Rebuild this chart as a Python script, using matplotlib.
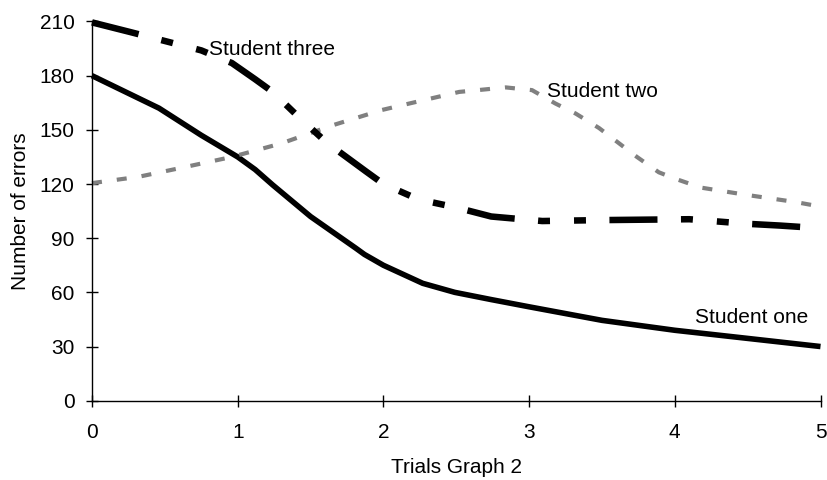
import matplotlib
matplotlib.use("Agg")
import matplotlib.pyplot as plt

plt.rcParams['font.family'] = ['Liberation Sans', 'DejaVu Sans']
plt.rcParams['lines.scale_dashes'] = False

# values
one_x = [0, 0.46, 0.75, 1.0, 1.12, 1.24, 1.5, 1.81, 1.87, 2.0, 2.27, 2.49, 2.74, 3.0, 3.5, 4.0, 4.5, 5.0]
one_y = [180, 162, 147, 135, 128, 119.5, 102, 84.5, 81, 75, 65, 60, 56, 52, 44.5, 39, 34.5, 30]

two_x = [0, 0.32, 0.65, 0.96, 1.3, 1.65, 1.99, 2.2, 2.52, 2.84, 3.02, 3.18, 3.32, 3.48, 3.61, 3.74, 3.89, 4.0, 4.18, 4.49, 4.66, 4.83, 5.0]
two_y = [120.5, 124, 129.6, 135, 142.5, 152.5, 161, 165, 171, 173.5, 172, 164.6, 159, 151, 143, 135, 126.5, 123, 118, 114, 112, 110, 107.5]

three_x = [0, 0.27, 0.75, 0.96, 1.12, 1.24, 1.42, 1.61, 1.88, 2.0, 2.24, 2.5, 2.74, 3.09, 3.48, 4.1, 4.49, 4.72, 5.0]
three_y = [209.5, 204, 194, 187, 178, 171, 157, 143, 127, 120, 111.5, 107, 102, 99.5, 100, 100.5, 98, 97, 95.5]

labels = ['Student one', 'Student two', 'Student three']
label_pos = [(4.14, 46.3), (3.12, 171.5), (0.80, 194.7)]

xticks = [0, 1, 2, 3, 4, 5]
yticks = [0, 30, 60, 90, 120, 150, 180, 210]

fig = plt.figure(figsize=(8.27, 4.8), dpi=100)
ax = fig.add_axes([92 / 827, 1 - 400.7 / 480, (820.5 - 92) / 827, (400.7 - 21.5) / 480])

ax.plot(one_x, one_y, color='black', lw=4.0, solid_capstyle='butt', clip_on=False)
ax.plot(two_x, two_y, color='#808080', lw=3.0, dashes=(7.2, 10.8), clip_on=False)
ax.plot(three_x, three_y, color='black', lw=4.7,
        dashes=(34.6, 16.9, 8.6, 17.3, 8.6, 16.9), clip_on=False)

for lab, (lx, ly) in zip(labels, label_pos):
    ax.text(lx, ly, lab, fontsize=15, ha='left', va='center')

ax.set_xlim(0, 5)
ax.set_ylim(0, 210)
ax.set_xticks(xticks)
ax.set_yticks(yticks)

for s in ['top', 'right']:
    ax.spines[s].set_visible(False)
for s in ['left', 'bottom']:
    ax.spines[s].set_linewidth(1.0)

ax.tick_params(direction='inout', length=8, width=1.0, labelsize=15)
ax.tick_params(axis='y', pad=8.6)
ax.tick_params(axis='x', pad=12)

ax.set_xlabel('Trials Graph 2', fontsize=15, labelpad=11.5)
ax.set_ylabel('Number of errors', fontsize=15, labelpad=7)

fig.savefig('out.png', dpi=100)
